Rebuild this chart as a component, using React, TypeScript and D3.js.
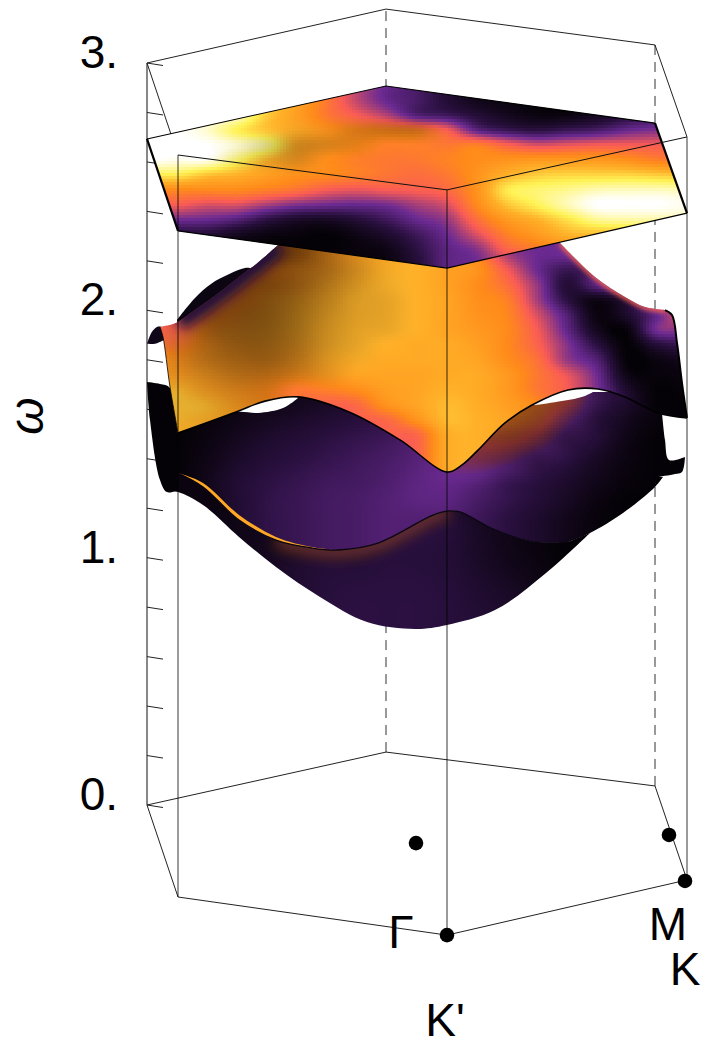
import React from "react";
import * as d3 from "d3";

type P = [number, number];

// Axis values
const omegaTicks = d3.range(0, 3.01, 0.2);
const omegaLabels = [0, 1, 2, 3];

// Hexagonal Brillouin-zone frame in projected (k, omega) coordinates
const hexBottom: P[] = [[0, 0], [2.39, 0.214], [5.08, 0.077], [5.4, -0.303], [3.0, -0.526], [0.31, -0.372]];
const hexTop: P[] = [[0, 3.0], [2.39, 3.218], [5.08, 3.073], [5.4, 2.701], [3.0, 2.487], [0.31, 2.628]];
const points: { name: string; p: P; label: P }[] = [
  { name: "Γ", p: [2.69, -0.154], label: [2.54, -0.579] },
  { name: "M", p: [5.22, -0.121], label: [5.21, -0.545] },
  { name: "K", p: [5.38, -0.307], label: [5.38, -0.727] },
  { name: "K'", p: [3.0, -0.526], label: [2.98, -0.934] },
];

// Colour grid columns (shared)
const colK = [0, 0.3, 0.6, 0.9, 1.2, 1.5, 1.8, 2.1, 2.4, 2.7, 3.0, 3.3, 3.6, 3.9, 4.2, 4.5, 4.8, 5.1, 5.4];

// Top band (flat plate)
const plateOutline: P[] = [[0, 2.693], [2.39, 2.907], [5.08, 2.757], [5.4, 2.393], [3.0, 2.171], [0.31, 2.321]];
const plateRows = [2.911, 2.85, 2.79, 2.729, 2.668, 2.608, 2.547, 2.487, 2.426, 2.365, 2.305, 2.244, 2.183];
const plateT = [
  [1, 1, 1, 0.9, 0.8, 0.65, 0.5, 0.35, 0.24, 0.18, 0.1, 0.04, 0.02, 0.01, 0, 0, 0.02, 0.05, 0.05],
  [1, 1, 1, 0.9, 0.8, 0.65, 0.5, 0.35, 0.24, 0.18, 0.1, 0.04, 0.02, 0.01, 0, 0, 0.02, 0.05, 0.05],
  [1, 1, 1, 0.95, 0.74, 0.62, 0.5, 0.42, 0.33, 0.2, 0.16, 0.1, 0.05, 0.02, 0.02, 0.05, 0.1, 0.15, 0.15],
  [1, 1, 0.95, 0.82, 0.72, 0.66, 0.58, 0.55, 0.54, 0.52, 0.42, 0.22, 0.15, 0.12, 0.15, 0.18, 0.24, 0.27, 0.27],
  [1, 1, 1, 0.95, 0.88, 0.66, 0.6, 0.56, 0.52, 0.52, 0.5, 0.52, 0.44, 0.38, 0.4, 0.42, 0.42, 0.42, 0.42],
  [1, 0.98, 0.98, 0.85, 0.7, 0.62, 0.56, 0.52, 0.5, 0.5, 0.53, 0.56, 0.58, 0.6, 0.6, 0.6, 0.57, 0.52, 0.5],
  [0.8, 0.8, 0.72, 0.68, 0.62, 0.57, 0.55, 0.52, 0.49, 0.47, 0.5, 0.58, 0.68, 0.74, 0.76, 0.76, 0.76, 0.74, 0.72],
  [0.55, 0.55, 0.55, 0.55, 0.52, 0.48, 0.42, 0.4, 0.42, 0.43, 0.46, 0.58, 0.8, 0.85, 0.88, 0.92, 0.93, 0.93, 0.92],
  [0.42, 0.42, 0.38, 0.38, 0.32, 0.27, 0.25, 0.24, 0.26, 0.32, 0.38, 0.55, 0.72, 0.82, 0.92, 1, 1, 1, 0.98],
  [0.25, 0.25, 0.24, 0.2, 0.12, 0.07, 0.06, 0.1, 0.16, 0.24, 0.3, 0.47, 0.6, 0.68, 0.78, 0.88, 0.9, 0.9, 0.9],
  [0.1, 0.1, 0.1, 0.05, 0.02, 0.01, 0, 0.03, 0.08, 0.16, 0.25, 0.38, 0.52, 0.6, 0.68, 0.7, 0.7, 0.7, 0.7],
  [0.05, 0.05, 0.05, 0.02, 0, 0, 0, 0.01, 0.03, 0.12, 0.22, 0.28, 0.44, 0.5, 0.55, 0.6, 0.6, 0.6, 0.6],
  [0, 0, 0, 0, 0, 0, 0, 0.01, 0.02, 0.1, 0.22, 0.25, 0.35, 0.4, 0.45, 0.5, 0.5, 0.5, 0.5],
];
const ones = colK.map(() => 1);
const plateShade = [
  ones, ones, ones,
  [1, 1, 1, 1, 1, 0.95, 0.95, 0.85, 0.8, 0.8, 1, 1, 1, 1, 1, 1, 1, 1, 1],
  [1, 1, 1, 0.97, 0.85, 0.8, 0.85, 0.9, 1, 1, 1, 1, 1, 1, 1, 1, 1, 1, 1],
  [1, 1, 1, 0.95, 0.9, 0.85, 1, 1, 1, 1, 1, 1, 1, 1, 1, 1, 1, 1, 1],
  ones, ones, ones, ones, ones, ones, ones,
];

// Middle band
const midTopLeft: P[] = [[0.13, 1.933], [0.26, 1.945], [0.31, 1.953]];
const midTopSlope: P[] = [[0.31, 1.953], [0.65, 2.05], [1.01, 2.163], [1.08, 2.183], [1.31, 2.264]];
const midTopRight: P[] = [[4.13, 2.272], [4.48, 2.135], [4.78, 2.054], [4.98, 2.013], [5.18, 2.001]];
const midRight: P[] = [[5.18, 2.001], [5.25, 1.981], [5.3, 1.868], [5.35, 1.706], [5.4, 1.565]];
const midBottom: P[] = [[5.4, 1.565], [5.11, 1.585], [4.78, 1.65], [4.51, 1.682], [4.21, 1.678], [3.85, 1.617], [3.58, 1.545], [3.31, 1.435], [3.15, 1.375], [3.0, 1.346], [2.53, 1.476], [2.02, 1.589], [1.51, 1.65], [1.18, 1.633], [0.89, 1.589], [0.31, 1.504]];
const midLeft: P[] = [[0.31, 1.504], [0.23, 1.69], [0.16, 1.892], [0.13, 1.933]];
const midCurlTop: P[] = [[0, 1.865], [0.05, 1.913], [0.1, 1.933], [0.15, 1.933]];
const midCurlBase: P[] = [[0.17, 1.88], [0.08, 1.865], [0, 1.865]];
const midRidgeTop: P[] = [[0.3, 1.961], [0.48, 2.05], [0.65, 2.11], [0.98, 2.171], [1.04, 2.17]];
const midRidgeBase: P[] = [[1.04, 2.1], [0.6, 1.95], [0.32, 1.9]];
const midRows = [2.284, 2.224, 2.163, 2.102, 2.042, 1.981, 1.92, 1.86, 1.799, 1.739, 1.678, 1.617, 1.557, 1.496, 1.354];
const midT = [
  [0.5, 0.5, 0.5, 0.5, 0.5, 0.55, 0.6, 0.63, 0.66, 0.68, 0.66, 0.55, 0.33, 0.25, 0.25, 0.25, 0.25, 0.25, 0.25],
  [0.5, 0.5, 0.5, 0.5, 0.5, 0.55, 0.6, 0.63, 0.66, 0.68, 0.66, 0.55, 0.33, 0.25, 0.25, 0.25, 0.25, 0.25, 0.25],
  [0.5, 0.5, 0.5, 0.5, 0.52, 0.58, 0.62, 0.66, 0.68, 0.68, 0.63, 0.58, 0.42, 0.25, 0.15, 0.2, 0.25, 0.25, 0.25],
  [0.5, 0.5, 0.5, 0.5, 0.55, 0.6, 0.65, 0.68, 0.69, 0.68, 0.63, 0.56, 0.47, 0.3, 0.1, 0.22, 0.3, 0.3, 0.3],
  [0.45, 0.45, 0.5, 0.52, 0.6, 0.64, 0.67, 0.69, 0.69, 0.68, 0.64, 0.57, 0.52, 0.32, 0.12, 0.03, 0.12, 0.35, 0.4],
  [0.42, 0.42, 0.5, 0.56, 0.62, 0.66, 0.68, 0.69, 0.69, 0.68, 0.64, 0.58, 0.54, 0.38, 0.2, 0.02, 0.08, 0.24, 0.42],
  [0.45, 0.45, 0.55, 0.6, 0.63, 0.66, 0.68, 0.69, 0.69, 0.68, 0.64, 0.6, 0.55, 0.42, 0.23, 0.05, 0.01, 0.26, 0.28],
  [0.5, 0.5, 0.58, 0.6, 0.62, 0.64, 0.68, 0.69, 0.68, 0.66, 0.66, 0.62, 0.55, 0.44, 0.28, 0.12, 0, 0.1, 0.15],
  [0.58, 0.58, 0.6, 0.6, 0.6, 0.62, 0.66, 0.68, 0.66, 0.66, 0.66, 0.64, 0.56, 0.48, 0.3, 0.2, 0, 0.02, 0.05],
  [0.62, 0.62, 0.62, 0.6, 0.58, 0.58, 0.62, 0.64, 0.64, 0.64, 0.66, 0.66, 0.6, 0.5, 0.4, 0.25, 0.03, 0.01, 0.02],
  [0.7, 0.7, 0.64, 0.6, 0.55, 0.5, 0.52, 0.56, 0.62, 0.64, 0.68, 0.66, 0.6, 0.5, 0.42, 0.27, 0.08, 0, 0.01],
  [0.72, 0.72, 0.7, 0.62, 0.56, 0.48, 0.44, 0.46, 0.58, 0.64, 0.7, 0.67, 0.62, 0.55, 0.42, 0.3, 0.1, 0, 0],
  [0.7, 0.7, 0.68, 0.64, 0.58, 0.48, 0.44, 0.44, 0.46, 0.58, 0.7, 0.68, 0.64, 0.55, 0.42, 0.3, 0.1, 0, 0],
  [0.68, 0.68, 0.66, 0.64, 0.58, 0.48, 0.44, 0.44, 0.44, 0.45, 0.66, 0.68, 0.64, 0.55, 0.42, 0.3, 0.1, 0, 0],
  [0.68, 0.68, 0.66, 0.64, 0.58, 0.48, 0.44, 0.44, 0.44, 0.45, 0.66, 0.68, 0.64, 0.55, 0.42, 0.3, 0.1, 0, 0],
];
const midShade = [
  [0.4, 0.4, 0.4, 0.4, 0.4, 0.45, 0.65, 0.85, 0.97, 1, 1, 1, 1, 1, 1, 1, 1, 1, 1],
  [0.4, 0.4, 0.4, 0.4, 0.4, 0.45, 0.65, 0.85, 0.97, 1, 1, 1, 1, 1, 1, 1, 1, 1, 1],
  [0.5, 0.5, 0.5, 0.5, 0.5, 0.55, 0.65, 0.8, 0.95, 1, 1, 1, 1, 1, 1, 1, 1, 1, 1],
  [0.6, 0.6, 0.55, 0.5, 0.48, 0.55, 0.68, 0.82, 0.93, 1, 1, 1, 1, 1, 1, 1, 1, 1, 1],
  [0.8, 0.8, 0.62, 0.5, 0.5, 0.58, 0.72, 0.85, 0.9, 1, 1, 1, 1, 1, 1, 1, 1, 1, 1],
  [1, 0.9, 0.58, 0.5, 0.5, 0.6, 0.75, 0.86, 0.9, 1, 1, 1, 1, 1, 1, 1, 1, 1, 1],
  [1, 0.88, 0.6, 0.52, 0.52, 0.62, 0.78, 0.88, 0.92, 1, 1, 1, 1, 1, 1, 1, 1, 1, 1],
  [1, 0.85, 0.66, 0.56, 0.55, 0.65, 0.8, 0.9, 1, 1, 1, 1, 1, 1, 1, 1, 1, 1, 1],
  [1, 0.85, 0.7, 0.62, 0.6, 0.7, 0.85, 0.95, 1, 1, 1, 1, 1, 1, 1, 1, 1, 1, 1],
  [0.95, 0.88, 0.78, 0.7, 0.7, 0.8, 0.9, 1, 1, 1, 1, 1, 1, 1, 1, 1, 1, 1, 1],
  [0.9, 0.9, 0.85, 0.8, 0.82, 1, 1, 1, 1, 1, 1, 1, 1, 1, 1, 1, 1, 1, 1],
  [0.9, 0.9, 0.88, 0.85, 0.85, 1, 1, 1, 1, 1, 1, 1, 1, 1, 1, 1, 1, 1, 1],
  [0.92, 0.92, 0.9, 0.88, 0.88, 1, 1, 1, 1, 1, 1, 1, 1, 1, 1, 1, 1, 1, 1],
  [0.95, 0.95, 0.95, 0.95, 0.95, 1, 1, 1, 1, 1, 1, 1, 1, 1, 1, 1, 1, 1, 1],
  [0.95, 0.95, 0.95, 0.95, 0.95, 1, 1, 1, 1, 1, 1, 1, 1, 1, 1, 1, 1, 1, 1],
];

// Lower band, upper sheet
const lowWave: P[] = [[0.31, 1.342], [0.56, 1.286], [0.92, 1.152], [1.29, 1.071], [1.65, 1.039], [1.91, 1.031], [2.31, 1.059], [2.86, 1.172], [3.02, 1.189], [3.13, 1.185], [3.48, 1.112], [3.88, 1.063], [4.21, 1.063]];
const lowRidge: P[] = [[4.21, 1.063], [4.43, 1.1], [4.76, 1.181], [5.08, 1.286], [5.16, 1.326]];
const lensLeft: P[] = [[0.31, 1.536], [0.89, 1.589], [1.11, 1.585], [1.36, 1.605], [1.51, 1.646]];
const lowHidden: P[] = [[1.51, 1.66], [3.85, 1.63]];
const lensRight: P[] = [[3.85, 1.617], [3.88, 1.617], [4.15, 1.633], [4.38, 1.654], [4.51, 1.682]];
const lowGapTop: P[] = [[4.51, 1.7], [5.15, 1.62]];
const lowGapSide: P[] = [[5.15, 1.585], [5.18, 1.476], [5.22, 1.395], [5.38, 1.407]];
const lowRightTail: P[] = [[5.38, 1.407], [5.35, 1.346], [5.28, 1.338], [5.11, 1.326]];
const lowLeftLobe: P[] = [[0, 1.71], [0.13, 1.702], [0.23, 1.686], [0.31, 1.504]];
const lowLeftLobeRest: P[] = [[0.31, 1.504], [0.31, 1.274]];
const lowLeftLobeBack: P[] = [[0.31, 1.274], [0.2, 1.265], [0.13, 1.314], [0.03, 1.557], [0, 1.71]];
const sliverTop: P[] = [[0.31, 1.342], [0.56, 1.302], [0.92, 1.173], [1.29, 1.084], [1.65, 1.043], [1.91, 1.031]];
const lowRows = [1.637, 1.557, 1.476, 1.395, 1.314, 1.233, 1.152, 0.99];
const lowT = [
  [0, 0, 0.01, 0.02, 0.03, 0.04, 0.06, 0.08, 0.1, 0.12, 0.2, 0.3, 0.5, 0.52, 0.42, 0.2, 0.08, 0.02, 0],
  [0, 0, 0.01, 0.03, 0.05, 0.07, 0.09, 0.11, 0.13, 0.16, 0.3, 0.42, 0.52, 0.48, 0.3, 0.14, 0.05, 0.01, 0],
  [0, 0, 0.02, 0.05, 0.08, 0.1, 0.12, 0.14, 0.16, 0.2, 0.3, 0.42, 0.45, 0.36, 0.2, 0.1, 0.03, 0, 0],
  [0, 0, 0.03, 0.07, 0.1, 0.12, 0.14, 0.16, 0.18, 0.21, 0.28, 0.34, 0.3, 0.2, 0.12, 0.06, 0.02, 0, 0],
  [0, 0, 0.04, 0.09, 0.12, 0.14, 0.16, 0.17, 0.19, 0.22, 0.24, 0.22, 0.16, 0.12, 0.08, 0.04, 0.01, 0, 0],
  [0, 0, 0.04, 0.09, 0.13, 0.15, 0.17, 0.18, 0.2, 0.22, 0.22, 0.18, 0.14, 0.1, 0.06, 0.02, 0, 0, 0],
  [0, 0, 0.04, 0.09, 0.13, 0.15, 0.17, 0.18, 0.2, 0.2, 0.2, 0.16, 0.12, 0.08, 0.04, 0.01, 0, 0, 0],
  [0, 0, 0.04, 0.09, 0.13, 0.15, 0.17, 0.18, 0.2, 0.2, 0.2, 0.16, 0.12, 0.08, 0.04, 0.01, 0, 0, 0],
];
const lowShade = [
  [1, 1, 1, 1, 1, 1, 1, 1, 1, 1, 1, 0.7, 0.65, 0.6, 0.55, 0.7, 1, 1, 1],
  [1, 1, 1, 1, 1, 1, 1, 1, 1, 1, 1, 0.75, 0.62, 0.55, 0.6, 0.75, 1, 1, 1],
  [1, 1, 1, 1, 1, 1, 1, 1, 1, 1, 0.8, 0.6, 0.5, 0.5, 0.6, 1, 1, 1, 1],
  [1, 1, 1, 1, 1, 1, 1, 1, 1, 1, 0.85, 0.65, 0.6, 0.65, 1, 1, 1, 1, 1],
  ones, ones, ones, ones,
];

// Lower band, bowl underneath
const bowlEdge: P[] = [[4.43, 1.1], [3.99, 0.938], [3.48, 0.788], [3.0, 0.728], [2.68, 0.712], [2.2, 0.74], [1.73, 0.841], [1.29, 0.962], [0.92, 1.084], [0.56, 1.213], [0.31, 1.265], [0.18, 1.27]];
const bowlRows = [1.314, 1.152, 0.99, 0.829, 0.667];
const bowlT = [
  [0.02, 0.02, 0.02, 0.02, 0.02, 0.02, 0.02, 0.02, 0.02, 0.02, 0.02, 0.02, 0.02, 0.02, 0.02, 0.02, 0.02, 0.02, 0.02],
  [0.01, 0.01, 0.02, 0.03, 0.04, 0.06, 0.08, 0.09, 0.1, 0.11, 0.1, 0.06, 0.03, 0.01, 0, 0, 0, 0, 0],
  [0.02, 0.02, 0.03, 0.04, 0.05, 0.08, 0.1, 0.1, 0.11, 0.11, 0.1, 0.07, 0.04, 0.02, 0, 0, 0, 0, 0],
  [0.05, 0.05, 0.06, 0.07, 0.08, 0.09, 0.11, 0.12, 0.12, 0.12, 0.11, 0.09, 0.07, 0.04, 0.02, 0, 0, 0, 0],
  [0.1, 0.1, 0.1, 0.1, 0.1, 0.11, 0.12, 0.12, 0.12, 0.12, 0.11, 0.1, 0.08, 0.06, 0.04, 0.02, 0, 0, 0],
];

// Colour map stops
const cmapStops = [0, 0.12, 0.25, 0.42, 0.55, 0.68, 0.82, 1];
const cmapColors = ["#050207", "#2a1040", "#6b2a92", "#fa5c55", "#ff8a1a", "#ffb028", "#fff355", "#ffffff"];

const W = 709;
const H = 1046;
const kScale = d3.scaleLinear().domain([0, 5.4]).range([147, 687]);
const wScale = d3.scaleLinear().domain([0, 3]).range([805, 63]);
const color = d3.scaleLinear<string>().domain(cmapStops).range(cmapColors).interpolate(d3.interpolateRgb).clamp(true);

const lineCurve = d3.line<P>().x((d) => kScale(d[0])).y((d) => wScale(d[1])).curve(d3.curveCatmullRom.alpha(0.5));
const lineStraight = d3.line<P>().x((d) => kScale(d[0])).y((d) => wScale(d[1]));
const outline = (edges: P[][]) =>
  edges.map((e, i) => {
    const s = (e.length > 2 ? lineCurve(e) : lineStraight(e)) as string;
    return i === 0 ? s : "L" + s.slice(1);
  }).join("") + "Z";
const rev = (a: P[]) => [...a].reverse();

const cr = (a: number, b: number, c: number, d: number, f: number) =>
  b + 0.5 * f * (c - a + f * (2 * a - 5 * b + 4 * c - d + f * (3 * (b - c) + d - a)));

function smooth(grid: number[][], c: number, r: number) {
  const nc = grid[0].length;
  const nr = grid.length;
  const c0 = Math.min(Math.floor(c), nc - 2);
  const r0 = Math.min(Math.floor(r), nr - 2);
  const at = (i: number, j: number) => grid[Math.max(0, Math.min(nr - 1, i))][Math.max(0, Math.min(nc - 1, j))];
  const row = (i: number) => cr(at(i, c0 - 1), at(i, c0), at(i, c0 + 1), at(i, c0 + 2), c - c0);
  return Math.max(0, Math.min(1, cr(row(r0 - 1), row(r0), row(r0 + 1), row(r0 + 2), r - r0)));
}

function Field({ id, d, rows, t, shade }: { id: string; d: string; rows: number[]; t: number[][]; shade?: number[][] }) {
  const colIdx = d3.scaleLinear().domain(colK).range(colK.map((_, i) => i)).clamp(true);
  const rowIdx = d3.scaleLinear().domain(rows).range(rows.map((_, i) => i)).clamp(true);
  const step = 3;
  const xs = d3.range(kScale(0) - 2, kScale(5.45), step);
  const ys = d3.range(wScale(rows[0]) - 8, wScale(rows[rows.length - 1]) + 8, step);
  const cells: React.ReactElement[] = [];
  for (const y of ys) {
    const r = rowIdx(wScale.invert(y + step / 2));
    for (const x of xs) {
      const c = colIdx(kScale.invert(x + step / 2));
      const v = smooth(t, c, r);
      const s = shade ? smooth(shade, c, r) : 1;
      const col = d3.rgb(color(v));
      const fill = `rgb(${Math.round(col.r * s)},${Math.round(col.g * s)},${Math.round(col.b * s)})`;
      cells.push(<rect key={`${x}-${y}`} x={x} y={y} width={step} height={step} fill={fill} />);
    }
  }
  return (
    <g>
      <clipPath id={id}><path d={d} /></clipPath>
      <g clipPath={`url(#${id})`} shapeRendering="crispEdges">{cells}</g>
    </g>
  );
}

const sx = (p: P) => kScale(p[0]);
const sy = (p: P) => wScale(p[1]);
const font = "'Liberation Sans', Arial, sans-serif";

export default function App() {
  const bowlPath = outline([lowWave, bowlEdge]);
  const lowPath = outline([lensLeft, lowHidden, lensRight, lowGapTop, lowGapSide, lowRightTail, rev(lowRidge), rev(lowWave)]);
  const midPath = outline([midTopLeft, midTopSlope, [midTopSlope[4], midTopRight[0]], midTopRight, midRight, midBottom, midLeft]);
  const platePath = lineStraight(plateOutline) + "Z";
  const lobePath = outline([lowLeftLobe, lowLeftLobeRest, lowLeftLobeBack]);
  const sliverPath = outline([sliverTop, rev(lowWave.slice(0, 6))]);
  const curlPath = outline([midCurlTop, midCurlBase]);
  const ridgePath = outline([midRidgeTop, midRidgeBase]);
  const backEdges = [1, 2];
  const frontEdges = [5, 4, 3];
  return (
    <svg width={W} height={H} style={{ position: "absolute", left: 0, top: 0, background: "#fff" }}>
      <defs>
        <filter id="glow" x="-20%" y="-50%" width="140%" height="200%"><feGaussianBlur stdDeviation="7" /></filter>
        <filter id="soft" x="-20%" y="-50%" width="140%" height="200%"><feGaussianBlur stdDeviation="6" /></filter>
        <filter id="rim" x="-20%" y="-50%" width="140%" height="200%"><feGaussianBlur stdDeviation="2" /></filter>
        <clipPath id="bowlClip"><path d={bowlPath} /></clipPath>
      </defs>
      {/* back frame */}
      {backEdges.map((i) => (
        <line key={i} x1={sx(hexBottom[i])} y1={sy(hexBottom[i])} x2={sx(hexTop[i])} y2={sy(hexTop[i])} stroke="#333" strokeWidth={1} strokeDasharray="10 7" />
      ))}
      <line x1={sx(hexBottom[0])} y1={sy(hexBottom[0])} x2={sx(hexTop[0])} y2={sy(hexTop[0])} stroke="#555" strokeWidth={1.4} />
      <path d={lineStraight(hexBottom) + "Z"} fill="none" stroke="#222" strokeWidth={1} />
      <path d={lineStraight(hexTop.slice(0, 4)) as string} fill="none" stroke="#222" strokeWidth={1} />
      <line x1={sx(hexTop[0])} y1={sy(hexTop[0])} x2={sx(hexTop[5])} y2={sy(hexTop[5])} stroke="#222" strokeWidth={1} />
      {omegaTicks.map((w) => (
        <line key={w} x1={kScale(0)} y1={wScale(w)} x2={kScale(0.16)} y2={wScale(w) + 2.5} stroke="#222" strokeWidth={1} />
      ))}

      {/* lower band */}
      <Field id="bowl" d={bowlPath} rows={bowlRows} t={bowlT} />
      <g clipPath="url(#bowlClip)">
        <path d={lineCurve(lowWave.slice(3, 9)) as string} fill="none" stroke="#a85018" strokeOpacity={0.55} strokeWidth={14} filter="url(#glow)" />
      </g>
      <Field id="low" d={lowPath} rows={lowRows} t={lowT} shade={lowShade} />
      <path d={lobePath} fill="#040206" />
      <path d={sliverPath} fill="#ffa726" />
      <path d={lineCurve(lowWave) as string} fill="none" stroke="#0a0510" strokeWidth={1.3} />

      {/* middle band */}
      <path d={curlPath} fill="#100818" />
      <path d={ridgePath} fill="#0c0612" />
      <Field id="mid" d={midPath} rows={midRows} t={midT} shade={midShade} />
      <g clipPath="url(#mid)">
        <path d={lineCurve(midTopSlope) as string} fill="none" stroke="#24103a" strokeWidth={20} filter="url(#soft)" />
        <path d={lineCurve(midTopRight) as string} fill="none" stroke="#fa6248" strokeOpacity={0.9} strokeWidth={5} filter="url(#rim)" />
      </g>
      <path d={lineCurve(midBottom) as string} fill="none" stroke="#000" strokeWidth={1.6} />
      <path d={lineCurve(midRight) as string} fill="none" stroke="#000" strokeWidth={2} />
      <path d={lineCurve(midLeft) as string} fill="none" stroke="#000" strokeWidth={0.8} />

      {/* top band */}
      <Field id="plate" d={platePath} rows={plateRows} t={plateT} shade={plateShade} />
      <path d={lineStraight(plateOutline.slice(0, 3)) as string} fill="none" stroke="#000" strokeWidth={1.1} />
      <path d={lineStraight(plateOutline.slice(3).concat([plateOutline[5]])) as string} fill="none" stroke="#000" strokeWidth={1.3} />
      <path d={lineStraight([plateOutline[0], plateOutline[5]]) as string} fill="none" stroke="#000" strokeWidth={2.2} />
      <path d={lineStraight([plateOutline[2], plateOutline[3]]) as string} fill="none" stroke="#000" strokeWidth={2.2} />

      {/* front frame */}
      {frontEdges.map((i) => (
        <line key={i} x1={sx(hexBottom[i])} y1={sy(hexBottom[i])} x2={sx(hexTop[i])} y2={sy(hexTop[i])} stroke="#000" strokeOpacity={0.72} strokeWidth={1.1} />
      ))}
      <path d={lineStraight([hexTop[3], hexTop[4], hexTop[5]]) as string} fill="none" stroke="#111" strokeWidth={1} />

      {/* labels */}
      {omegaLabels.map((w) => (
        <text key={w} x={118} y={wScale(w) + 5} textAnchor="end" fontFamily={font} fontSize={46} fill="#000">{w}.</text>
      ))}
      <text transform="translate(43,416) rotate(-90)" textAnchor="middle" fontFamily={font} fontSize={48} fontStyle="italic" fill="#000">ω</text>
      {points.map((pt) => (
        <g key={pt.name}>
          <circle cx={sx(pt.p)} cy={sy(pt.p)} r={7.3} fill="#000" />
          <text x={sx(pt.label)} y={sy(pt.label)} textAnchor="middle" fontFamily={font} fontSize={46} fill="#000">{pt.name}</text>
        </g>
      ))}
    </svg>
  );
}
